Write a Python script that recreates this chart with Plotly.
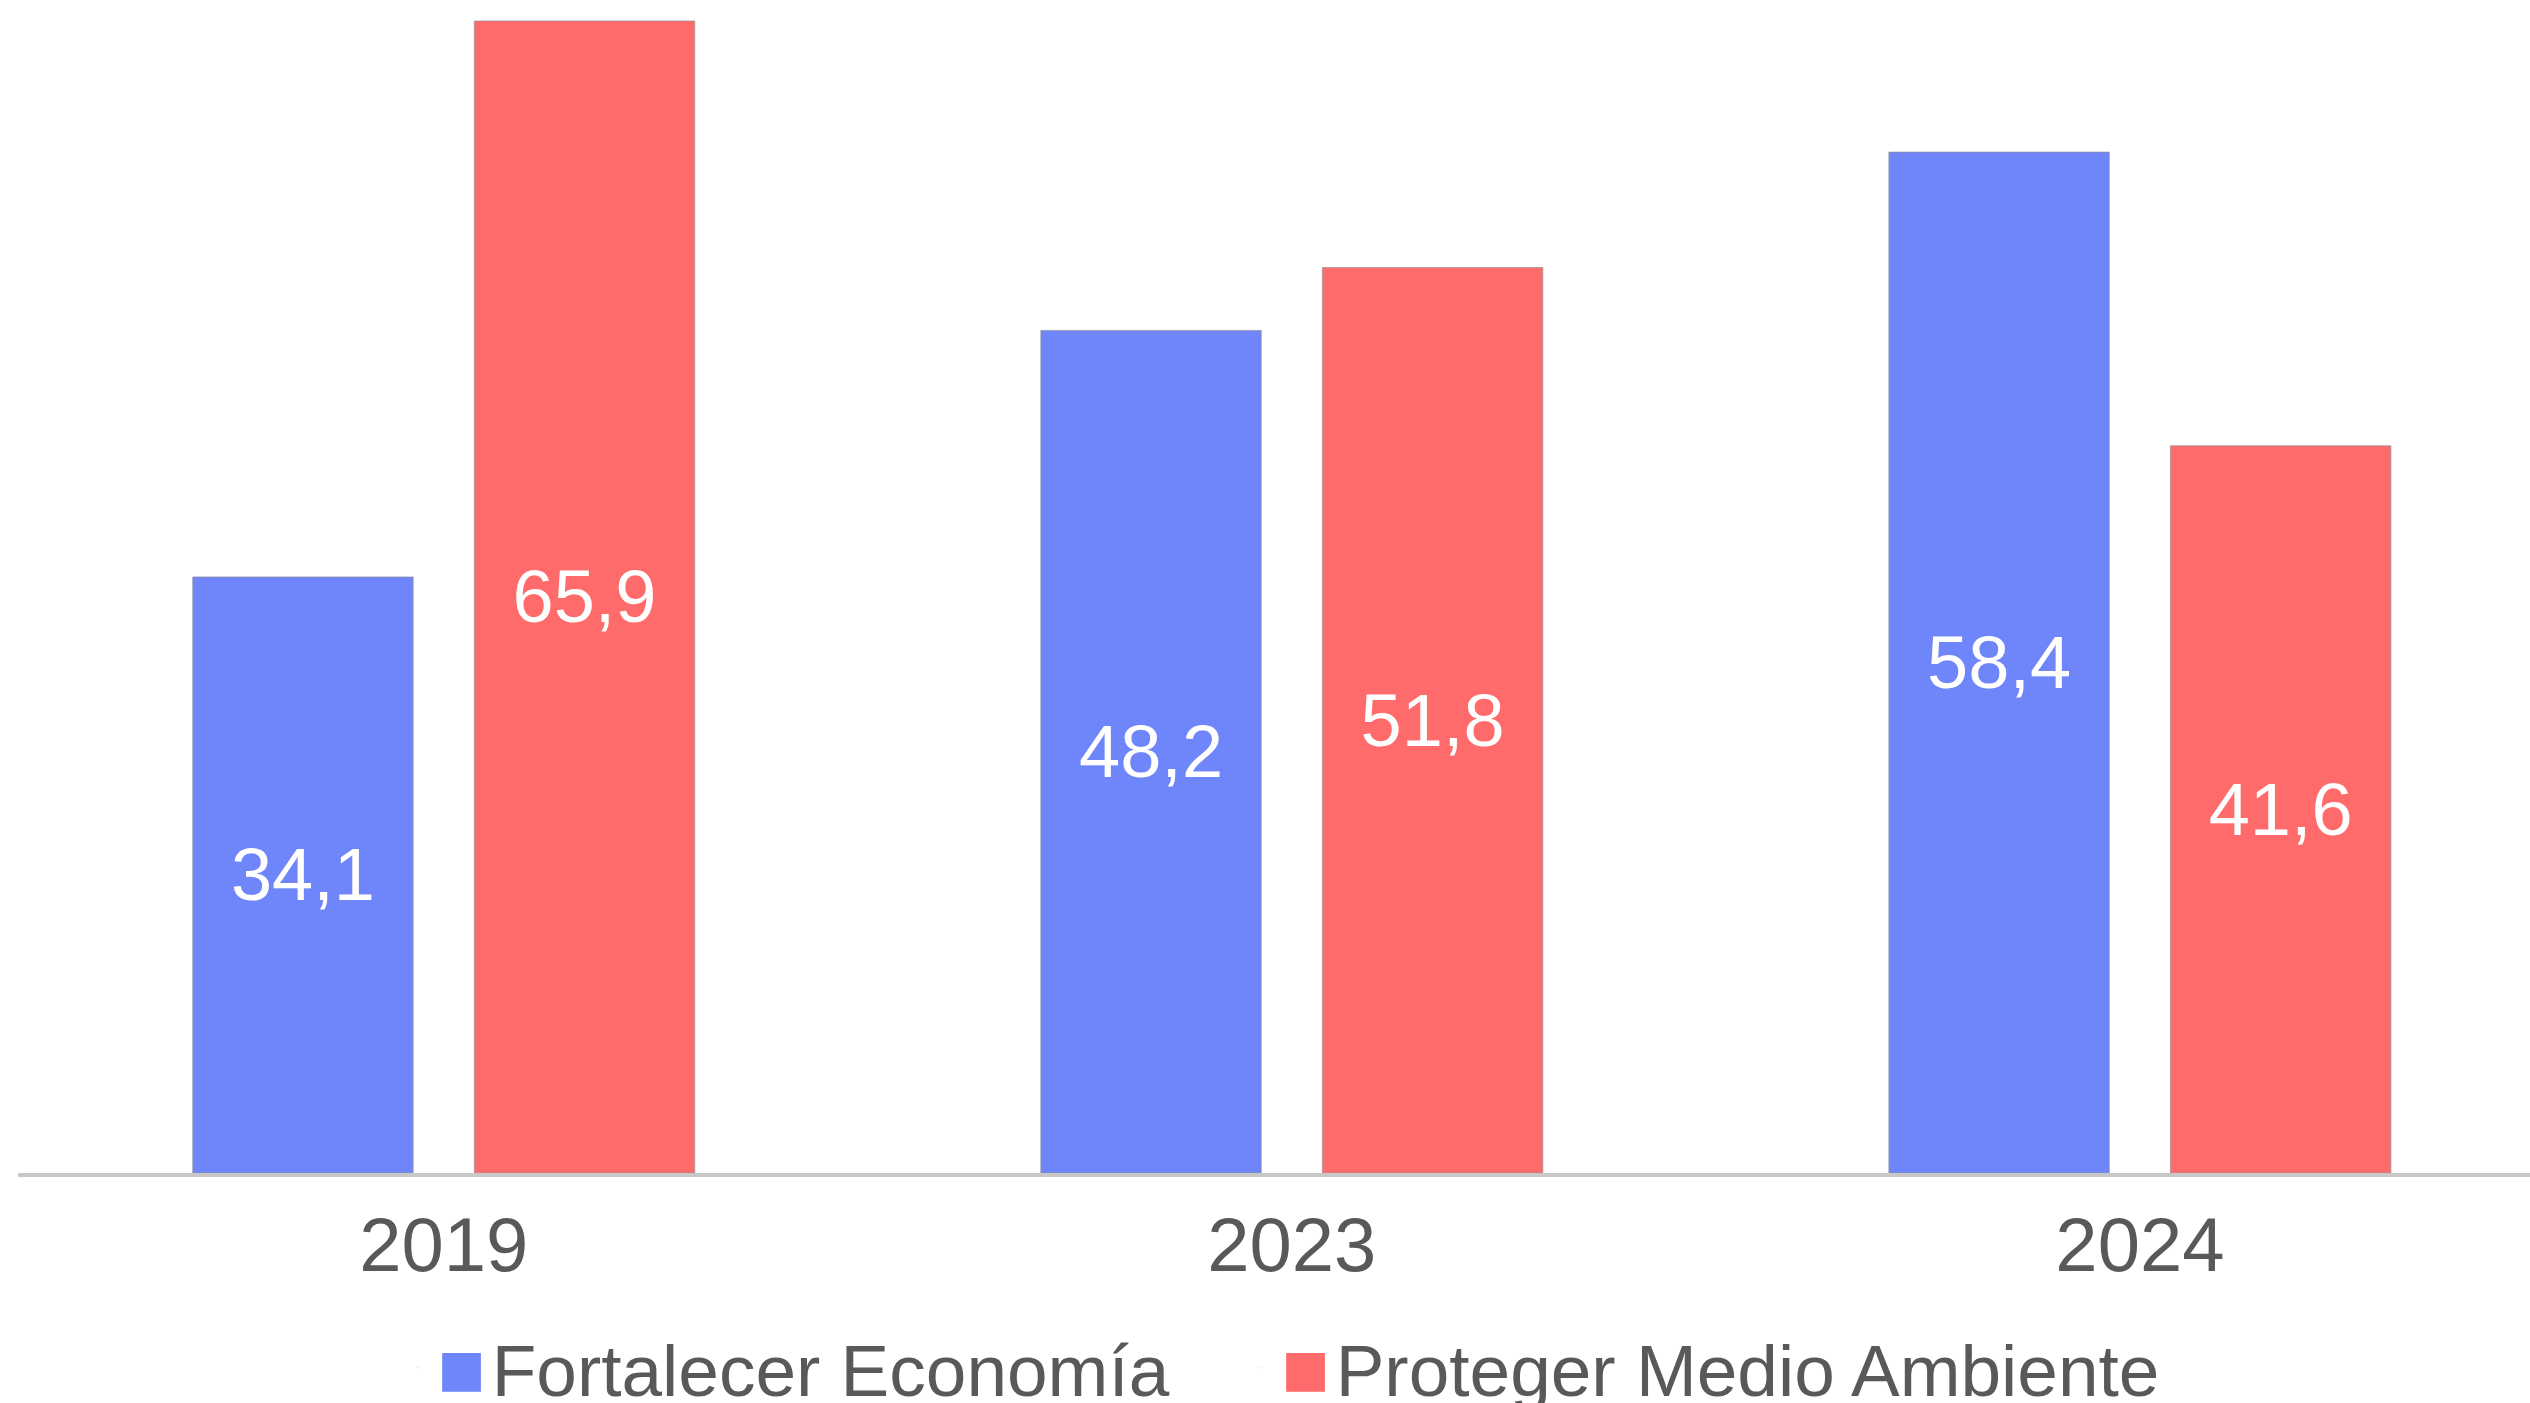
import plotly.graph_objects as go

years = ["2019", "2023", "2024"]
economia = [34.1, 48.2, 58.4]
ambiente = [65.9, 51.8, 41.6]
series_names = ["Fortalecer Economía", "Proteger Medio Ambiente"]
colors = ["#6E86F9", "#FF6A6A"]

FONT = "Liberation Sans, Arial, Helvetica, sans-serif"

fig = go.Figure()
for vals, col in zip([economia, ambiente], colors):
    fig.add_trace(go.Bar(
        x=years, y=vals, marker=dict(color=col, line=dict(color="rgba(150,150,150,0.7)", width=1)),
        texttemplate="%{y:.1f}", textposition="inside", insidetextanchor="middle",
        textangle=0, constraintext="none",
        insidetextfont=dict(color="white", size=74, family=FONT),
        showlegend=False, hoverinfo="skip",
    ))

# legend entries (large square swatches)
pads = ["\u00a0" * 3 + "\u200a", ""]
for name, col, pad in zip(series_names, colors, pads):
    fig.add_trace(go.Scatter(
        x=[None], y=[None], mode="markers", marker=dict(size=1, opacity=0),
        name=f'<span style="color:{col};font-size:80px">■</span>\u200a{name}{pad}', showlegend=True,
    ))

fig.update_layout(
    width=2530, height=1403,
    margin=dict(l=18, r=0, t=0, b=230, autoexpand=False),
    paper_bgcolor="white", plot_bgcolor="white",
    barmode="group", bargap=0.336, bargroupgap=0.217,
    separators=",.",
    font=dict(family=FONT, color="#595959"),
    showlegend=True,
    legend=dict(orientation="h", xanchor="left", x=0.151, yanchor="middle", y=-0.166,
                font=dict(size=73, color="#595959", family=FONT),
                itemclick=False, itemdoubleclick=False,
                bgcolor="rgba(0,0,0,0)"),
)
fig.update_xaxes(type="category", range=[-0.502, 2.46], showline=True, linecolor="#c8c8c8",
                 linewidth=4, showgrid=False, ticks="", ticklabelstandoff=3, automargin=False,
                 tickfont=dict(size=76, color="#595959", family=FONT), fixedrange=True)
fig.update_yaxes(range=[0, 67.1], visible=False, showgrid=False, zeroline=False, fixedrange=True,
                 automargin=False)

fig.write_html("out.html", config={"displayModeBar": False},
               post_script="document.body.style.margin='0';document.body.style.overflow='hidden';")
